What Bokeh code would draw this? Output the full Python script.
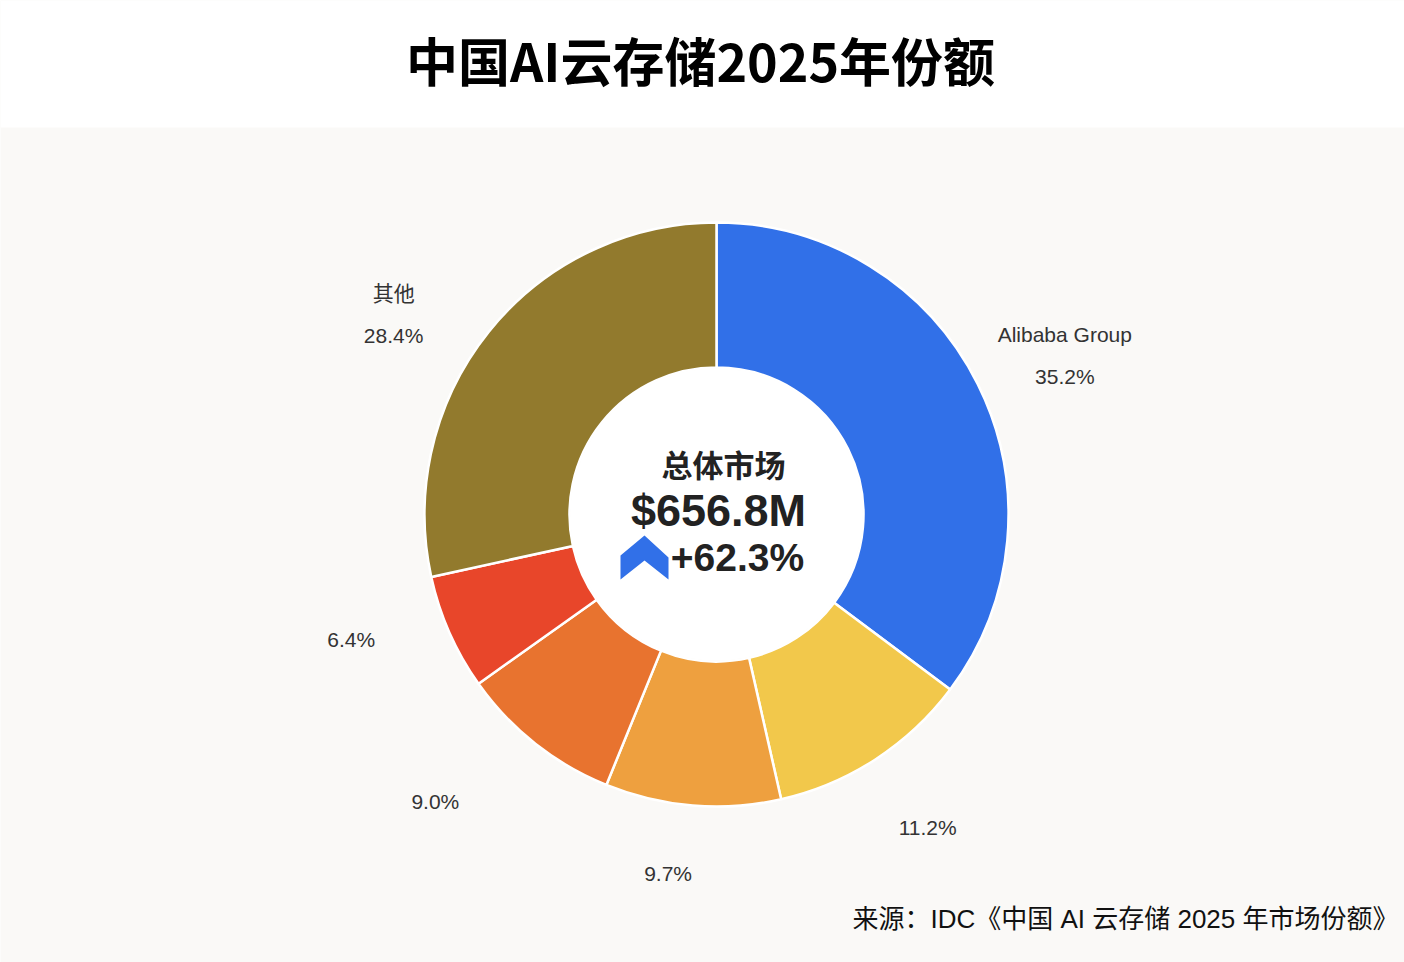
import numpy as np
from bokeh.plotting import figure
from bokeh.models import Range1d
from bokeh.core.properties import value
from bokeh.embed import file_html
from bokeh.resources import INLINE

# data
names = ["Alibaba Group", "", "", "", "", "其他"]
shares = [35.2, 11.2, 9.7, 9.0, 6.4, 28.4]
colors = ["#3170e8", "#f2c84b", "#eea03f", "#e8732f", "#e8462a", "#927a2d"]
title_txt = "中国AI云存储2025年份额"
center_title = "总体市场"
center_value = "$656.8M"
center_growth = "+62.3%"
source_txt = "来源：IDC《中国 AI 云存储 2025 年市场份额》"

W, H = 1404, 962
# x as in the screenshot, y flipped (y_up = H - y)
p = figure(width=W, height=H, x_range=Range1d(0, W), y_range=Range1d(0, H),
           output_backend="svg", toolbar_location=None, min_border=0)
p.axis.visible = False
p.grid.grid_line_color = None
p.outline_line_color = None
p.background_fill_color = "#faf9f7"
p.border_fill_color = "#faf9f7"

# white title band
p.quad(left=0, right=W, top=H, bottom=H - 127, color="white", line_color=None)

cx, cy = 716, H - 514
r_out, r_in = 292, 147

total = sum(shares)
frac = np.cumsum([0] + shares) / total
start = np.pi / 2 - 2 * np.pi * frac[1:]
end = np.pi / 2 - 2 * np.pi * frac[:-1]
p.annular_wedge(x=cx, y=cy, inner_radius=r_in, outer_radius=r_out,
                inner_radius_units="screen", outer_radius_units="screen",
                start_angle=start, end_angle=end, fill_color=colors,
                line_color="white", line_width=2.5)
p.scatter(x=[cx], y=[cy], size=2 * r_in - 2, marker="circle",
          fill_color="white", line_color=None)

# outside labels (mid angle + small layout nudge, like the label avoidance)
lab_font = value("Liberation Sans, Noto Sans CJK SC")
mid = 2 * np.pi * (frac[:-1] + frac[1:]) / 2
nudge_deg = [2, -1, 3, 6, 5, -7]
r_lab = [383, 378, 362, 402, 386, 380]
for nm, s, a, dn, rl in zip(names, shares, mid, nudge_deg, r_lab):
    a = a + np.radians(dn)
    lx = cx + rl * np.sin(a)
    ly = cy + rl * np.cos(a)
    if nm:
        p.text(x=[lx], y=[ly + 21], text=[nm], text_font=lab_font, text_font_size="21px",
               text_color="#333333", text_align="center", text_baseline="middle")
        p.text(x=[lx], y=[ly - 21], text=[f"{s:.1f}%"], text_font=lab_font, text_font_size="21px",
               text_color="#333333", text_align="center", text_baseline="middle")
    else:
        p.text(x=[lx], y=[ly], text=[f"{s:.1f}%"], text_font=lab_font, text_font_size="21px",
               text_color="#333333", text_align="center", text_baseline="middle")

# center block
bold_font = value("Liberation Sans, Noto Sans CJK SC")
p.text(x=[cx + 7], y=[H - 463], text=[center_title], text_font=value("Noto Sans CJK SC"),
       text_font_size="31px", text_font_style="bold", text_color="#222222",
       text_align="center", text_baseline="middle")
p.text(x=[cx + 2], y=[H - 510], text=[center_value], text_font=bold_font,
       text_font_size="45px", text_font_style="bold", text_color="#222222",
       text_align="center", text_baseline="middle")
p.text(x=[cx + 21], y=[H - 557], text=[center_growth], text_font=bold_font,
       text_font_size="39px", text_font_style="bold", text_color="#222222",
       text_align="center", text_baseline="middle")

# up chevron next to growth
ax, ay = 644, H - 557
cw, ch = 24, 22
p.patch(x=[ax - cw, ax, ax + cw, ax + cw, ax, ax - cw],
        y=[ay + 2, ay + ch, ay, ay - ch, ay - 3, ay - ch],
        fill_color="#3170e8", line_color=None)

# title and source
p.text(x=[700], y=[H - 59], text=[title_txt], text_font=value("Noto Sans CJK SC"),
       text_font_size="52px", text_font_style="bold", text_color="#000000",
       text_align="center", text_baseline="middle")
p.text(x=[1398], y=[H - 918], text=[source_txt], text_font=lab_font,
       text_font_size="26px", text_color="#111111",
       text_align="right", text_baseline="middle")

open("out.html", "w").write(file_html(p, INLINE))
